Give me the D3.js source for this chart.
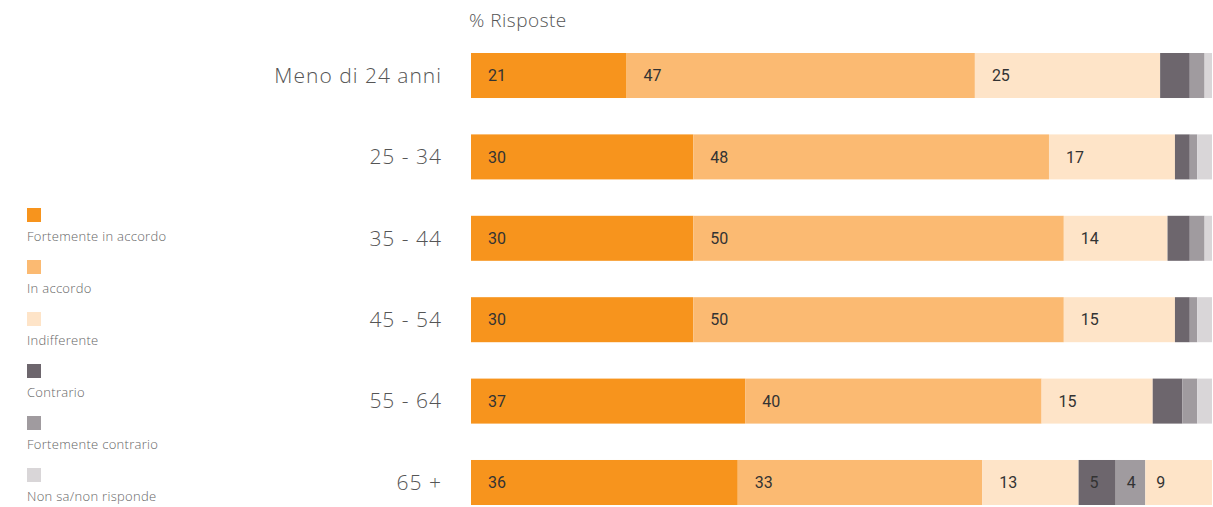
<!DOCTYPE html>
<html lang="it">
<head>
<meta charset="UTF-8">
<title>% Risposte per età</title>
<script src="https://cdn.jsdelivr.net/npm/d3@7"></script>
<style>
  body { margin: 0; background: #fff; }
  svg { display: block; }
</style>
</head>
<body>
<div id="chart"></div>
<script>
    // Categories (age groups)
    var ages = ["Meno di 24 anni", "25 - 34", "35 - 44", "45 - 54", "55 - 64", "65 +"];

    // Answer series
    var series = ["Fortemente in accordo", "In accordo", "Indifferente", "Contrario", "Fortemente contrario", "Non sa/non risponde"];
    var colors = ["#f7941d", "#fbba72", "#fee4c8", "#6d666d", "#a09b9f", "#d9d6d8"];

    // Values per series, one per age group
    var fortementeAccordo = [21, 30, 30, 30, 37, 36];
    var inAccordo        = [47, 48, 50, 50, 40, 33];
    var indifferente     = [25, 17, 14, 15, 15, 13];
    var contrario        = [4, 2, 3, 2, 4, 5];
    var fortContrario    = [2, 1, 2, 1, 2, 4];
    var nonSa            = [1, 2, 1, 2, 2, 9];

    var values = [fortementeAccordo, inAccordo, indifferente, contrario, fortContrario, nonSa];

    // Rows where every segment carries its label (elsewhere only the first three)
    var fullyLabelled = ["65 +"];

    // In the original the last "non sa" segment of "65 +" is painted in the indifferente colour
    var oddCell = { age: "65 +", key: "Non sa/non risponde", color: "#fee4c8" };

    var width = 1213, height = 507;

    var svg = d3.select("#chart")
        .append("svg")
        .attr("width", width)
        .attr("height", height);

    // Build rows for stacking
    var rows = ages.map(function(a, i) {
        var r = { age: a };
        series.forEach(function(s, j) { r[s] = values[j][i]; });
        return r;
    });

    var stack = d3.stack().keys(series)(rows);

    var x = d3.scaleLinear().domain([0, 100]).range([471, 1212]);
    var y = d3.scaleBand().domain(ages).range([53, 505]).paddingInner(0.447).paddingOuter(0);

    // Title
    svg.append("text")
        .attr("x", 469)
        .attr("y", 27)
        .attr("font-family", "'Open Sans', sans-serif")
        .attr("font-weight", 300)
        .attr("font-size", 19)
        .attr("letter-spacing", 0.5)
        .attr("fill", "#555")
        .text("% Risposte");

    // Category labels
    svg.append("g")
        .selectAll("text")
        .data(ages)
        .enter()
        .append("text")
        .attr("x", 442)
        .attr("y", function(d) { return y(d) + y.bandwidth() / 2; })
        .attr("dy", "0.35em")
        .attr("text-anchor", "end")
        .attr("font-family", "'Open Sans', sans-serif")
        .attr("font-weight", 300)
        .attr("font-size", 21)
        .attr("letter-spacing", 1)
        .attr("fill", "#555")
        .text(function(d) { return d; });

    // Bars
    var layers = svg.append("g")
        .selectAll("g")
        .data(stack)
        .enter()
        .append("g")
        .attr("fill", function(d, i) { return colors[i]; });

    layers.selectAll("rect")
        .data(function(d) { return d.map(function(p) { p.key = d.key; p.idx = d.index; return p; }); })
        .enter()
        .append("rect")
        .attr("x", function(d) { return x(d[0]); })
        .attr("y", function(d) { return y(d.data.age); })
        .attr("width", function(d) { return x(d[1]) - x(d[0]); })
        .attr("height", y.bandwidth())
        .attr("fill", function(d) {
            return (d.data.age === oddCell.age && d.key === oddCell.key) ? oddCell.color : null;
        });

    // Value labels
    layers.selectAll("text")
        .data(function(d) {
            return d.filter(function(p) { return p.idx < 3 || fullyLabelled.indexOf(p.data.age) >= 0; });
        })
        .enter()
        .append("text")
        .attr("x", function(d) { return x(d[0]) + (d[1] - d[0] >= 10 ? 17 : 11); })
        .attr("y", function(d) { return y(d.data.age) + y.bandwidth() / 2; })
        .attr("dy", "0.35em")
        .attr("font-family", "Roboto, sans-serif")
        .attr("font-size", 16)
        .attr("fill", "#333")
        .text(function(d) { return d[1] - d[0]; });

    // Legend
    var legend = svg.append("g")
        .selectAll("g")
        .data(series)
        .enter()
        .append("g")
        .attr("transform", function(d, i) { return "translate(27," + (208 + i * 52) + ")"; });

    legend.append("rect")
        .attr("width", 14)
        .attr("height", 14)
        .attr("fill", function(d, i) { return colors[i]; });

    legend.append("text")
        .attr("x", 0)
        .attr("y", 33)
        .attr("font-family", "'Open Sans', sans-serif")
        .attr("font-weight", 300)
        .attr("font-size", 13)
        .attr("letter-spacing", 0.3)
        .attr("fill", "#666")
        .text(function(d) { return d; });
</script>
</body>
</html>
